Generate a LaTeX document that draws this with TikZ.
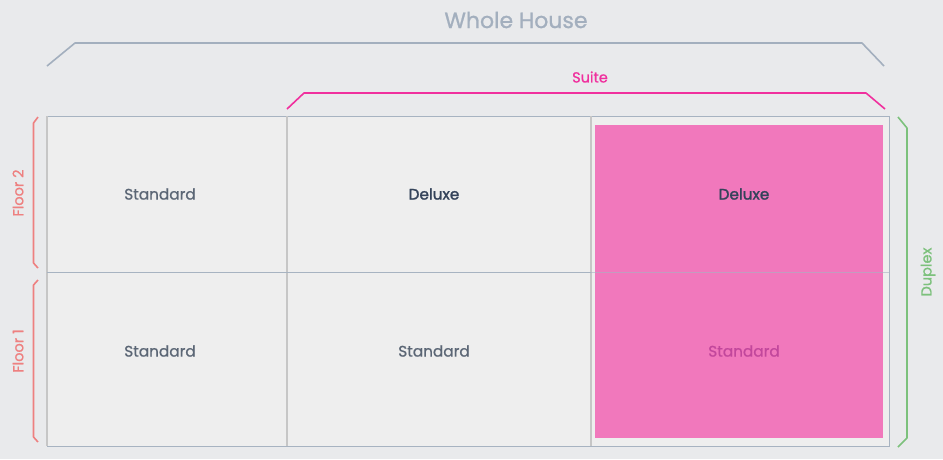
\documentclass[tikz,border=0pt]{standalone}
\usepackage{fontspec}
\setmainfont{Poppins}[FakeBold=0.9]
\newfontfamily\dlxfont{Poppins}[FakeBold=1.5]
\definecolor{bgc}{HTML}{E9EAEC}
\definecolor{cellc}{HTML}{EEEEEE}
\definecolor{gridb}{HTML}{A7B3C1}
\definecolor{gridg}{HTML}{C6C6C6}
\definecolor{pinkc}{HTML}{F178BC}
\definecolor{stdc}{HTML}{5B6675}
\definecolor{dlxc}{HTML}{34435A}
\definecolor{stdpink}{HTML}{C2479C}
\definecolor{wholec}{HTML}{A3AFBE}
\definecolor{suitec}{HTML}{F0309E}
\definecolor{floorc}{HTML}{EE8080}
\definecolor{duplexc}{HTML}{7CC17C}
\begin{document}
\begin{tikzpicture}[x=1pt,y=-1pt,
  celltext/.style={inner sep=0pt, font=\fontsize{15.3}{17}\selectfont},
  brk/.style={line width=1.6pt, line join=round},
  sidelabel/.style={inner sep=0pt, rotate=90, font=\fontsize{14.5}{16}\selectfont}]
\useasboundingbox (0,0) rectangle (943,459);
\fill[bgc] (0,0) rectangle (943,459);
% cells
\fill[cellc] (47,116) rectangle (889,446);
\fill[pinkc] (595,125) rectangle (883,438);
% grid
\draw[gridb, line width=1pt] (47,116) -- (889,116) -- (889,446) -- (47,446);
\draw[gridg, line width=1.5pt] (47,116) -- (47,446);
\draw[gridg, line width=1.5pt] (287,116) -- (287,446);
\draw[gridg, line width=1.5pt] (591,116) -- (591,446);
\draw[gridb, line width=0.8pt] (47,272) -- (591,272);
\draw[gridb, line width=0.8pt, opacity=0.6] (591,272) -- (889,272);
% cell texts
\node[celltext, text=stdc] (s21) at (160,194) {Standard};
\node[celltext, text=dlxc, font=\dlxfont\fontsize{15.3}{17}\selectfont] (d22) at (434,194) {Deluxe};
\node[celltext, text=dlxc, font=\dlxfont\fontsize{15.3}{17}\selectfont] (d23) at (744,194) {Deluxe};
\node[celltext, text=stdc] (s11) at (160,351) {Standard};
\node[celltext, text=stdc] (s12) at (434,351) {Standard};
\node[celltext, text=stdpink] (s13) at (744,351) {Standard};
% Whole house bracket
\node[inner sep=0pt, text=wholec, font=\fontsize{22}{26}\selectfont] (whole) at (516,20) {Whole House};
\coordinate (w1) at (47,66); \coordinate (w2) at (75,43);
\coordinate (w3) at (862,43); \coordinate (w4) at (884,66);
\draw[brk, wholec] (w1) -- (w2) -- (w3) -- (w4);
% Suite bracket
\node[inner sep=0pt, text=suitec, font=\fontsize{14.5}{16}\selectfont] (suite) at (590,77) {Suite};
\coordinate (u1) at (287,109); \coordinate (u2) at (304,93);
\coordinate (u3) at (866,93); \coordinate (u4) at (885,109);
\draw[brk, suitec] (u1) -- (u2) -- (u3) -- (u4);
% Floor 2
\coordinate (f2a) at (38,117); \coordinate (f2b) at (33.5,123);
\coordinate (f2c) at (33.5,263); \coordinate (f2d) at (38,268);
\draw[brk, floorc] (f2a) -- (f2b) -- (f2c) -- (f2d);
\node[sidelabel, text=floorc] (floor2) at (18,193) {Floor 2};
% Floor 1
\coordinate (f1a) at (38,280); \coordinate (f1b) at (33.5,285);
\coordinate (f1c) at (33.5,437); \coordinate (f1d) at (38,442);
\draw[brk, floorc] (f1a) -- (f1b) -- (f1c) -- (f1d);
\node[sidelabel, text=floorc] (floor1) at (18,351) {Floor 1};
% Duplex
\coordinate (da) at (898,117); \coordinate (db) at (907,128);
\coordinate (dc) at (907,438); \coordinate (dd) at (898,447);
\draw[brk, duplexc] (da) -- (db) -- (dc) -- (dd);
\node[sidelabel, text=duplexc] (duplex) at (928,272) {Duplex};
\end{tikzpicture}
\end{document}
